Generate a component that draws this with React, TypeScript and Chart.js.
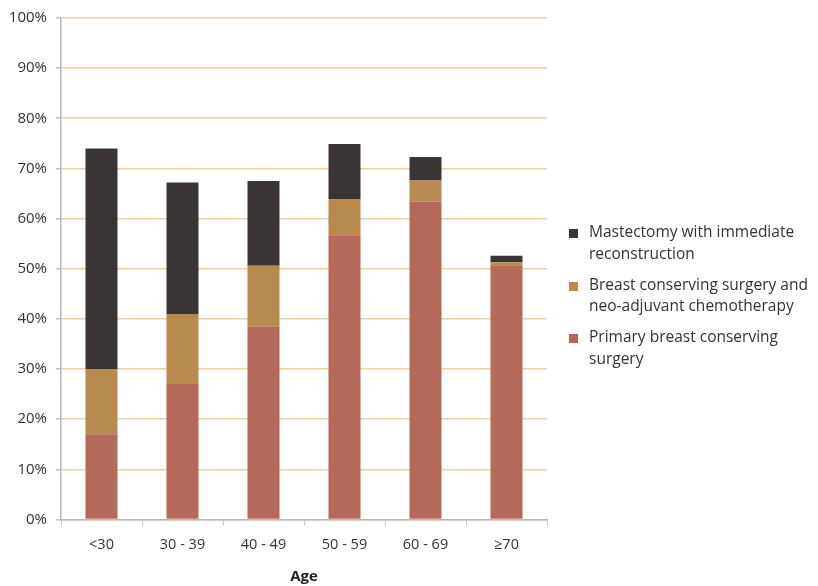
import { useEffect, useRef } from "react";
import { Chart, registerables } from "chart.js";

Chart.register(...registerables);

// Age bands on the x axis
const ageGroups = ["<30", "30 - 39", "40 - 49", "50 - 59", "60 - 69", "≥70"];

// Share of patients (%) per surgery type, stacked bottom to top
const primaryBcs = [17, 27, 38.5, 56.7, 63.4, 50.7];
const bcsNeoAdjuvant = [13, 14, 12.1, 7.2, 4.2, 0.6];
const mastectomyRecon = [44, 26.2, 16.9, 11, 4.7, 1.3];

const seriesLabels = [
  ["Mastectomy with immediate", "reconstruction"],
  ["Breast conserving surgery and", "neo-adjuvant chemotherapy"],
  ["Primary breast conserving", "surgery"],
];
const seriesColors = ["#3b3435", "#b88a4f", "#b4695a"];

const FONT = "'Open Sans', Lato, sans-serif";

export default function App() {
  const canvasRef = useRef<HTMLCanvasElement | null>(null);

  useEffect(() => {
    const canvas = canvasRef.current;
    if (!canvas) return;
    const chart = new Chart(canvas, {
      type: "bar",
      data: {
        labels: ageGroups,
        datasets: [
          {
            label: seriesLabels[2].join(" "),
            data: primaryBcs,
            backgroundColor: seriesColors[2],
          },
          {
            label: seriesLabels[1].join(" "),
            data: bcsNeoAdjuvant,
            backgroundColor: seriesColors[1],
          },
          {
            label: seriesLabels[0].join(" "),
            data: mastectomyRecon,
            backgroundColor: seriesColors[0],
          },
        ],
      },
      options: {
        responsive: false,
        animation: false,
        layout: { padding: { left: 0, top: 18, right: 271, bottom: 0 } },
        datasets: {
          bar: { categoryPercentage: 1, barPercentage: 0.395 },
        },
        plugins: {
          legend: { display: false },
          tooltip: { enabled: false },
        },
        scales: {
          x: {
            stacked: true,
            grid: {
              drawOnChartArea: false,
              drawTicks: true,
              tickLength: 6,
              color: "#c4c4c4",
            },
            border: { color: "#b8b8b8", width: 1.5 },
            ticks: {
              font: { family: FONT, size: 14.5 },
              color: "#333333",
              padding: 11,
            },
            title: {
              display: true,
              text: "Age",
              font: { family: FONT, size: 15, weight: "bold" },
              color: "#222222",
              padding: { top: 6, bottom: 0 },
            },
            afterFit: (scale: any) => {
              scale.height = 66.5;
            },
          },
          y: {
            stacked: true,
            min: 0,
            max: 100,
            grid: {
              color: "#f0d0a6",
              lineWidth: 1.6,
              tickColor: "#c4c4c4",
              tickLength: 5,
            },
            border: { color: "#b8b8b8", width: 1.5 },
            ticks: {
              stepSize: 10,
              font: { family: FONT, size: 15 },
              color: "#333333",
              padding: 9,
              callback: (v: any) => `${v}%`,
            },
            afterFit: (scale: any) => {
              scale.width = 61;
            },
          },
        },
      },
    });
    return () => chart.destroy();
  }, []);

  return (
    <div
      style={{
        position: "fixed",
        left: 0,
        top: 0,
        width: 818,
        height: 586,
        background: "#ffffff",
      }}
    >
      <canvas ref={canvasRef} width={818} height={586} />
      {seriesLabels.map((lines, i) => (
        <div
          key={i}
          style={{
            position: "absolute",
            left: 569,
            top: 221 + i * 52.5,
            fontFamily: FONT,
            fontSize: 15.5,
            lineHeight: "21.5px",
            color: "#333333",
          }}
        >
          <span
            style={{
              position: "absolute",
              left: 0,
              top: 8,
              width: 9,
              height: 9,
              background: seriesColors[i],
            }}
          />
          <div style={{ paddingLeft: 20, whiteSpace: "nowrap" }}>
            {lines.map((t, j) => (
              <div key={j}>{t}</div>
            ))}
          </div>
        </div>
      ))}
    </div>
  );
}
